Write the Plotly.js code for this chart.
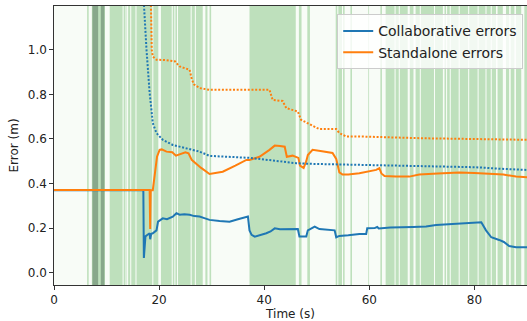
<!DOCTYPE html>
<html>
<head>
<meta charset="utf-8">
<script src="https://cdn.plot.ly/plotly-3.0.1.min.js"></script>
<style>html,body{margin:0;padding:0;background:#fff;}#chart{width:527px;height:321px;}</style>
</head>
<body>
<div id="chart"></div>
<script>
// Collaborative errors (solid blue)
const collabTime = [0, 17.0, 17.1, 17.25, 17.4, 17.8, 18.2, 18.3, 18.5, 18.8, 19.5, 19.8, 20.7, 21.5, 22.6, 23.3, 23.9, 24.8, 25.8, 26.7, 27.7, 28.6, 29.6, 31.5, 33.4, 35.0, 36.9, 37.2, 37.6, 38.2, 39.3, 40.4, 41.2, 42.0, 43.0, 44.2, 45.3, 46.4, 46.7, 48.0, 48.3, 49.6, 50.5, 52.0, 53.4, 53.7, 54.3, 56.0, 58.1, 59.4, 59.6, 61.0, 61.5, 61.8, 64.0, 68.3, 70.8, 72.7, 76.0, 78.5, 80.3, 81.3, 82.2, 83.2, 84.7, 85.6, 86.6, 87.9, 90];
const collabErr  = [0.37, 0.37, 0.066, 0.12, 0.163, 0.17, 0.177, 0.15, 0.175, 0.177, 0.19, 0.229, 0.244, 0.24, 0.251, 0.267, 0.26, 0.262, 0.26, 0.254, 0.252, 0.245, 0.237, 0.232, 0.229, 0.24, 0.252, 0.19, 0.17, 0.162, 0.168, 0.177, 0.185, 0.199, 0.195, 0.196, 0.194, 0.196, 0.162, 0.162, 0.19, 0.207, 0.196, 0.193, 0.19, 0.159, 0.165, 0.168, 0.174, 0.174, 0.199, 0.2, 0.205, 0.198, 0.203, 0.205, 0.207, 0.214, 0.218, 0.222, 0.226, 0.226, 0.19, 0.159, 0.147, 0.138, 0.12, 0.114, 0.114];

// Standalone errors (solid orange)
const standTime = [0, 18.2, 18.3, 18.4, 18.8, 19.2, 19.6, 20.1, 20.5, 21.4, 22.5, 23.2, 23.9, 25.0, 25.6, 26.2, 27.0, 28.0, 29.6, 32.1, 34.5, 36.6, 37.2, 39.1, 41.0, 42.0, 43.0, 43.9, 44.3, 45.4, 46.5, 46.8, 47.5, 48.0, 48.3, 49.2, 51.0, 53.0, 53.7, 54.3, 54.9, 56.0, 58.1, 59.4, 61.3, 61.9, 62.3, 62.9, 65.0, 67.6, 69.5, 73.0, 77.1, 80.0, 83.4, 85.5, 87.9, 90];
const standErr  = [0.371, 0.371, 0.196, 0.371, 0.37, 0.45, 0.52, 0.551, 0.553, 0.543, 0.54, 0.525, 0.53, 0.54, 0.535, 0.506, 0.49, 0.47, 0.443, 0.453, 0.48, 0.506, 0.506, 0.52, 0.551, 0.57, 0.568, 0.565, 0.52, 0.525, 0.515, 0.48, 0.47, 0.5, 0.528, 0.551, 0.545, 0.537, 0.51, 0.45, 0.44, 0.44, 0.446, 0.453, 0.461, 0.469, 0.445, 0.434, 0.431, 0.431, 0.44, 0.445, 0.449, 0.447, 0.443, 0.44, 0.431, 0.428];

// Running mean, collaborative (dotted blue)
const collabMeanTime = [17.0, 17.3, 17.6, 18.2, 18.8, 19.5, 20.7, 22.6, 23.9, 25.8, 27.7, 29.6, 33.0, 37.2, 41.0, 46.1, 49.2, 53.0, 58.1, 64.4, 72.0, 80.3, 85.0, 90];
const collabMean     = [1.25, 1.1, 1.0, 0.806, 0.671, 0.626, 0.596, 0.573, 0.566, 0.555, 0.543, 0.524, 0.52, 0.515, 0.505, 0.491, 0.488, 0.486, 0.484, 0.479, 0.476, 0.473, 0.466, 0.461];

// Running mean, standalone (dotted orange)
const standMeanTime = [18.4, 18.6, 18.8, 19.5, 21.4, 23.0, 23.9, 25.8, 26.2, 26.6, 27.7, 29.6, 41.0, 41.6, 43.5, 44.2, 46.4, 47.0, 49.2, 50.5, 53.7, 54.3, 55.6, 58.1, 70.0, 90];
const standMean     = [1.25, 1.0, 0.97, 0.955, 0.953, 0.948, 0.925, 0.91, 0.87, 0.845, 0.828, 0.82, 0.82, 0.775, 0.77, 0.738, 0.723, 0.686, 0.659, 0.644, 0.644, 0.626, 0.611, 0.611, 0.603, 0.596];

// Shaded intervals (time, s)
const spanStart = [6.3, 7.2, 10.6, 13.25, 13.8, 14.1, 14.7, 15.7, 18.9, 20.35, 22.6, 23.1, 23.6, 26.2, 27.0, 28.8, 29.6, 37.2, 46.6, 48.2, 53.6, 54.1, 55.0, 56.4, 59.8, 62.1, 63.1, 65.0, 65.8, 67.7, 68.8, 69.8, 72.5, 74.3, 74.8, 75.5, 77.2, 79.0, 80.8, 82.3, 83.3, 84.4, 86.0, 86.9, 87.9, 89.5];
const spanEnd   = [6.6, 9.7, 13.05, 13.6, 13.9, 14.5, 15.5, 18.7, 19.85, 22.4, 22.9, 23.4, 26.0, 26.8, 28.3, 29.2, 29.9, 46.0, 47.1, 48.7, 53.9, 54.8, 55.3, 56.7, 59.95, 62.4, 64.8, 65.6, 67.3, 68.4, 69.6, 72.3, 74.0, 74.6, 75.3, 77.0, 78.8, 80.6, 82.1, 83.1, 84.1, 85.4, 86.6, 87.6, 88.9, 90];
const darkStart = [7.3, 8.9];
const darkEnd   = [8.4, 9.6];

const xTicks = [0, 20, 40, 60, 80];
const yTicks = [0.0, 0.2, 0.4, 0.6, 0.8, 1.0];
const yTickText = ['0.0', '0.2', '0.4', '0.6', '0.8', '1.0'];

const BLUE = '#1f77b4', ORANGE = '#ff7f0e';

const shapes = [];
for (let i = 0; i < spanStart.length; i++) {
  shapes.push({type: 'rect', xref: 'x', yref: 'paper', x0: spanStart[i], x1: spanEnd[i], y0: 0, y1: 1,
    fillcolor: 'rgb(190,224,188)', line: {width: 0}, layer: 'below'});
}
for (let i = 0; i < darkStart.length; i++) {
  shapes.push({type: 'rect', xref: 'x', yref: 'paper', x0: darkStart[i], x1: darkEnd[i], y0: 0, y1: 1,
    fillcolor: 'rgb(136,168,139)', line: {width: 0}, layer: 'below'});
}

const traces = [
  {x: collabTime, y: collabErr, type: 'scatter', mode: 'lines', name: 'Collaborative errors',
   line: {color: BLUE, width: 2}},
  {x: standTime, y: standErr, type: 'scatter', mode: 'lines', name: 'Standalone errors',
   line: {color: ORANGE, width: 2}},
  {x: collabMeanTime, y: collabMean, type: 'scatter', mode: 'lines', showlegend: false,
   line: {color: BLUE, width: 2, dash: '2px,1.7px'}},
  {x: standMeanTime, y: standMean, type: 'scatter', mode: 'lines', showlegend: false,
   line: {color: ORANGE, width: 2, dash: '2px,1.7px'}}
];

const font = {family: 'DejaVu Sans', size: 12, color: '#222'};
const layout = {
  width: 527, height: 321,
  margin: {l: 54, r: 0, t: 6, b: 36, pad: 0},
  paper_bgcolor: '#ffffff',
  plot_bgcolor: '#f8fcf7',
  font: font,
  showlegend: true,
  legend: {x: 0.992, xanchor: 'right', y: 0.97, yanchor: 'top', itemwidth: 30, tracegroupgap: 0,
    bgcolor: 'rgba(255,255,255,0.8)', bordercolor: '#cccccc', borderwidth: 1,
    font: {family: 'DejaVu Sans', size: 14, color: '#222'}},
  xaxis: {range: [0, 90], tickvals: xTicks, ticks: 'outside', ticklen: 3.5, tickwidth: 1, tickcolor: '#333',
    showgrid: false, zeroline: false, showline: true, linecolor: '#333', linewidth: 1.2, mirror: true,
    title: {text: 'Time (s)', font: font, standoff: 4}, automargin: false},
  yaxis: {range: [-0.055, 1.196], tickvals: yTicks, ticktext: yTickText, ticks: 'outside', ticklen: 3.5, tickwidth: 1,
    tickcolor: '#333', showgrid: false, zeroline: false, showline: true, linecolor: '#333', linewidth: 1.2, mirror: true,
    title: {text: 'Error (m)', font: font, standoff: 6}, automargin: false},
  shapes: shapes
};

Plotly.newPlot('chart', traces, layout, {displayModeBar: false, staticPlot: true});
</script>
</body>
</html>
